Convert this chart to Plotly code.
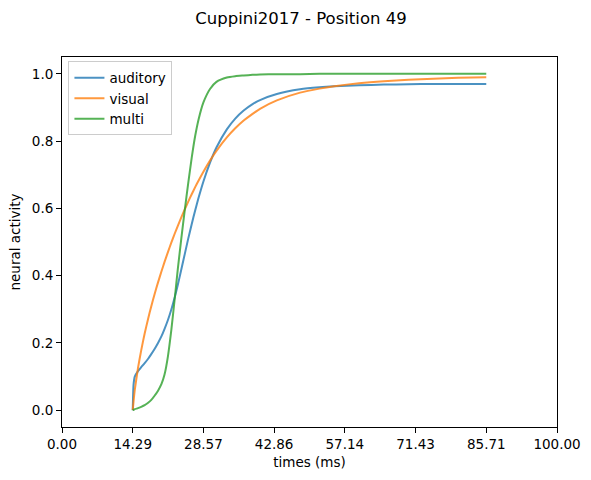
import plotly.graph_objects as go

# sample times (ms) and activity of each population
times = [14.29, 14.45, 14.7, 15.35, 16.0, 16.7, 17.4, 18.0, 18.7, 19.4, 20.1,
         20.7, 21.4, 22.1, 22.8, 23.4, 24.1, 24.8, 25.5, 26.2, 26.9, 27.6,
         28.57, 29.9, 31.2, 33.3, 35.0, 36.7, 38.5, 40.0, 43.4, 48.1, 52.0,
         55.0, 60.0, 65.0, 70.0, 75.0, 80.0, 85.71]

auditory = [0.0, 0.075, 0.1, 0.116, 0.128, 0.14, 0.153, 0.166, 0.182, 0.2,
            0.22, 0.241, 0.268, 0.3, 0.337, 0.373, 0.418, 0.464, 0.51, 0.553,
            0.594, 0.632, 0.68, 0.736, 0.781, 0.835, 0.867, 0.891, 0.91, 0.922,
            0.94, 0.954, 0.96, 0.963, 0.966, 0.968, 0.969, 0.97, 0.97, 0.97]

visual = [0.0, 0.025, 0.06, 0.125, 0.178, 0.228, 0.272, 0.307, 0.345, 0.38,
          0.413, 0.44, 0.47, 0.499, 0.526, 0.548, 0.573, 0.597, 0.62, 0.642,
          0.663, 0.683, 0.709, 0.742, 0.771, 0.811, 0.838, 0.861, 0.881, 0.896,
          0.921, 0.944, 0.956, 0.963, 0.972, 0.978, 0.982, 0.985, 0.988, 0.99]

multi = [0.0, 0.001, 0.003, 0.006, 0.01, 0.015, 0.022, 0.03, 0.043, 0.058,
         0.078, 0.105, 0.16, 0.24, 0.335, 0.42, 0.51, 0.595, 0.675, 0.75,
         0.815, 0.865, 0.915, 0.955, 0.976, 0.989, 0.993, 0.995, 0.997, 0.998,
         0.999, 0.999, 1.0, 1.0, 1.0, 1.0, 1.0, 1.0, 1.0, 1.0]

x_tick_vals = [0, 14.2857, 28.5714, 42.8571, 57.1429, 71.4286, 85.7143, 100]
x_tick_text = ["0.00", "14.29", "28.57", "42.86", "57.14", "71.43", "85.71", "100.00"]
y_tick_vals = [0.0, 0.2, 0.4, 0.6, 0.8, 1.0]

series = [("auditory", auditory, "#1f77b4"),
          ("visual", visual, "#ff7f0e"),
          ("multi", multi, "#2ca02c")]

fig = go.Figure()
for name, vals, color in series:
    fig.add_trace(go.Scatter(
        x=times, y=vals, name=name, mode="lines",
        line=dict(color=color, width=2, shape="spline", smoothing=0.5),
        opacity=0.8,
    ))

font = "DejaVu Sans, Liberation Sans, sans-serif"
axis_common = dict(
    showline=True, linecolor="black", linewidth=1, mirror=True,
    ticks="outside", ticklen=5, tickwidth=1, tickcolor="black",
    showgrid=False, zeroline=False, automargin=False,
    tickfont=dict(size=13.5, color="black"),
)

fig.update_layout(
    width=591, height=480,
    margin=dict(l=62, r=34, t=57, b=53),
    paper_bgcolor="white", plot_bgcolor="white",
    font=dict(family=font, color="black"),
    title=dict(text="Cuppini2017 - Position 49", x=301 / 591, xanchor="center",
               y=1 - 18 / 480, yanchor="middle", yref="container",
               font=dict(size=16.5, color="black")),
    xaxis=dict(range=[0, 100], tickvals=x_tick_vals, ticktext=x_tick_text,
               title=dict(text="times (ms)", font=dict(size=13.5), standoff=6),
               **axis_common),
    yaxis=dict(range=[-0.05, 1.05], tickvals=y_tick_vals, tickformat=".1f",
               title=dict(text="neural activity", font=dict(size=13.5), standoff=8),
               **axis_common),
    legend=dict(x=0.013, y=0.988, xanchor="left", yanchor="top",
                bgcolor="rgba(255,255,255,0.8)", bordercolor="#cccccc",
                borderwidth=1, font=dict(size=13.5, color="black"),
                tracegroupgap=0),
    showlegend=True,
)

# the page body has a default 8px margin; drop it so the figure sits at 0,0
fig.write_html("out.html", config={"displayModeBar": False},
               post_script="document.body.style.margin='0';")
